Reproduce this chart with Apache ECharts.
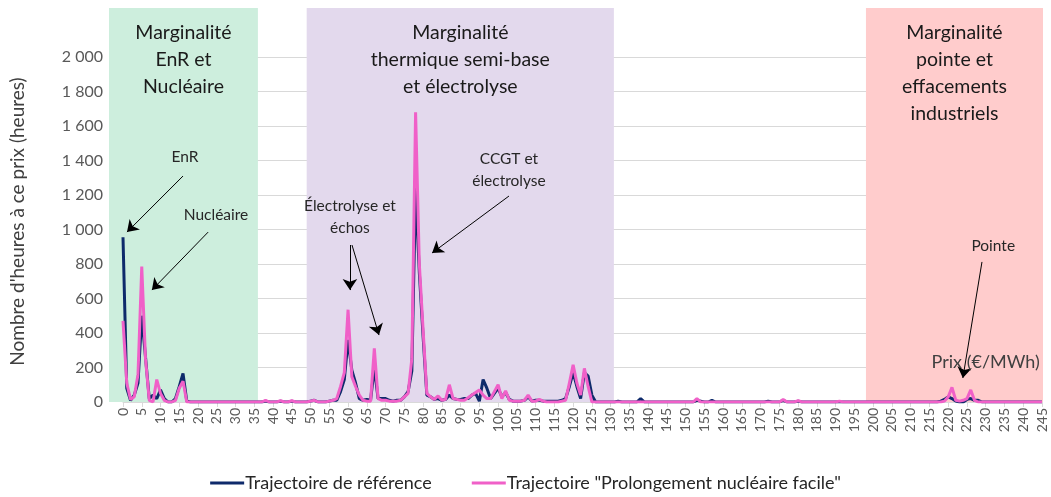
<!DOCTYPE html>
<html>
<head>
<meta charset="utf-8">
<script src="https://cdn.jsdelivr.net/npm/echarts@6/dist/echarts.min.js"></script>
<style>
  html, body { margin: 0; padding: 0; background: #fff; }
  #main { width: 1051px; height: 497px; }
</style>
</head>
<body>
<div id="main"></div>
<script>
// heures par niveau de prix (1 €/MWh par case, 0 -> 245)
const refHours = [
  955, 80, 10, 40, 110, 500, 260, 20, 40, 20,
  70, 20, 0, 0, 20, 90, 165, 5, 0, 0,
  0, 0, 0, 0, 0, 0, 0, 0, 0, 0,
  0, 0, 0, 0, 0, 0, 0, 0, 5, 0,
  0, 0, 5, 0, 0, 5, 0, 0, 0, 0,
  5, 10, 0, 0, 0, 5, 10, 10, 60, 130,
  360, 185, 110, 20, 10, 15, 10, 200, 20, 20,
  20, 10, 5, 10, 10, 30, 60, 180, 1240, 750,
  380, 40, 30, 15, 20, 10, 15, 40, 20, 15,
  15, 20, 20, 40, 50, 5, 130, 80, 20, 50,
  80, 30, 55, 15, 5, 5, 5, 10, 30, 5,
  10, 10, 5, 5, 5, 5, 5, 10, 20, 90,
  170, 90, 20, 170, 150, 40, 0, 0, 0, 0,
  0, 0, 5, 0, 0, 0, 0, 0, 20, 0,
  0, 0, 0, 0, 0, 0, 0, 0, 0, 0,
  0, 0, 0, 10, 5, 0, 0, 10, 0, 0,
  0, 0, 0, 0, 0, 0, 0, 0, 0, 0,
  0, 0, 5, 0, 0, 0, 10, 0, 0, 0,
  5, 0, 0, 0, 0, 0, 0, 0, 0, 0,
  0, 0, 0, 0, 0, 0, 0, 0, 0, 0,
  0, 0, 0, 0, 0, 0, 0, 0, 0, 0,
  0, 0, 0, 0, 0, 0, 0, 0, 5, 15,
  30, 20, 5, 0, 0, 15, 20, 10, 10, 0,
  0, 0, 0, 0, 0, 0, 0, 0, 0, 0,
  0, 0, 0, 0, 0, 0
];
const nucHours = [
  470, 110, 15, 30, 160, 785, 250, 10, 0, 130,
  50, 10, 0, 0, 10, 80, 120, 0, 0, 0,
  0, 0, 0, 0, 0, 0, 0, 0, 0, 0,
  0, 0, 0, 0, 0, 0, 0, 0, 10, 0,
  0, 0, 8, 0, 0, 8, 0, 0, 0, 0,
  5, 10, 0, 0, 0, 5, 10, 20, 90, 170,
  535, 147, 90, 40, 10, 5, 5, 311, 20, 10,
  10, 5, 5, 5, 10, 30, 50, 250, 1680, 800,
  420, 50, 30, 15, 35, 10, 15, 100, 20, 15,
  10, 10, 25, 40, 55, 70, 40, 20, 20, 60,
  100, 20, 65, 10, 5, 5, 5, 10, 40, 5,
  5, 15, 5, 0, 0, 0, 0, 5, 10, 110,
  215, 110, 40, 195, 90, 0, 0, 0, 0, 0,
  0, 0, 0, 0, 0, 0, 0, 0, 0, 0,
  0, 0, 0, 0, 0, 0, 0, 0, 0, 0,
  0, 0, 0, 20, 0, 0, 0, 0, 0, 0,
  0, 0, 0, 0, 0, 0, 0, 0, 0, 0,
  0, 0, 0, 0, 0, 0, 15, 0, 0, 0,
  8, 0, 0, 0, 0, 0, 0, 0, 0, 0,
  0, 5, 0, 0, 0, 0, 0, 0, 0, 0,
  0, 0, 0, 0, 0, 0, 0, 0, 0, 0,
  0, 0, 0, 0, 0, 0, 0, 0, 0, 5,
  30, 85, 10, 5, 10, 20, 70, 10, 0, 0,
  0, 0, 0, 0, 0, 0, 0, 0, 0, 0,
  0, 0, 0, 0, 0, 0
];
const seriesNames = ['Trajectoire de référence', 'Trajectoire "Prolongement nucléaire facile"'];

// zones de marginalité (bornes en €/MWh)
const zoneNames = ['Marginalité\nEnR et\nNucléaire', 'Marginalité\nthermique semi-base\net électrolyse', 'Marginalité\npointe et\neffacements\nindustriels'];
const zoneFrom = [-3.7, 49, 198.1];
const zoneTo = [36, 130.9, 245.3];
const zoneColors = ['#cdeedd', '#e3d9ed', '#ffcccc'];

// annotations : texte et fleches (coordonnees prix / heures)
const notes = [
  { text: 'EnR', at: [16.5, 1420] },
  { text: 'Nucléaire', at: [24.8, 1084] },
  { text: 'Électrolyse et\néchos', at: [60.5, 1075] },
  { text: 'CCGT et\nélectrolyse', at: [102.9, 1345] },
  { text: 'Pointe', at: [232, 904] }
];
const xAxisTitle = { text: 'Prix (€/MWh)', at: [230, 232] };
const arrows = [
  [[16.0, 1310], [1.07, 985]],
  [[22.7, 985], [7.7, 649]],
  [[60.5, 910], [60.5, 649]],
  [[61.05, 910], [68.25, 388]],
  [[102.9, 1194], [82.4, 864]],
  [[229, 812], [223.9, 139]]
];

const font = 'Lato, "Liberation Sans", sans-serif';
const fmt = v => v >= 1000 ? Math.floor(v / 1000) + ' ' + String(v % 1000).padStart(3, '0') : String(v);

var chart = echarts.init(document.getElementById('main'));
var option = {
  backgroundColor: '#fff',
  animation: false,
  textStyle: { fontFamily: font },
  grid: [
    { left: 123, right: 9, top: 57, bottom: 95 },
    { left: 109, right: 8, top: 8, bottom: 95 }
  ],
  legend: {
    bottom: 0,
    left: 'center',
    icon: 'rect',
    itemWidth: 34,
    itemHeight: 3,
    itemGap: 40,
    data: seriesNames,
    textStyle: { fontSize: 18, color: '#262626', fontFamily: font, padding: [0, 0, 0, -4] }
  },
  xAxis: [
    {
      type: 'value', gridIndex: 0, min: 0, max: 245, interval: 5,
      axisLine: { show: true, lineStyle: { color: '#d9d9d9' } },
      axisTick: { show: true, length: 5, lineStyle: { color: '#d9d9d9' } },
      splitLine: { show: false },
      axisLabel: { rotate: 90, fontSize: 14, color: '#595959', margin: 6, fontFamily: font }
    },
    { type: 'value', gridIndex: 1, min: -3.7, max: 245.3, show: false }
  ],
  yAxis: [
    {
      type: 'value', gridIndex: 0, min: 0, max: 2000, interval: 200,
      axisLine: { show: false }, axisTick: { show: false },
      splitLine: { lineStyle: { color: '#d9d9d9' } },
      axisLabel: { fontSize: 16, color: '#595959', margin: 20, formatter: fmt, fontFamily: font },
      name: "Nombre d'heures à ce prix (heures)",
      nameLocation: 'middle', nameRotate: 90, nameGap: 96,
      nameTextStyle: { fontSize: 19, color: '#404040', fontFamily: font, padding: [0, 0, 0, 16] }
    },
    { type: 'value', gridIndex: 1, min: 0, max: 1, show: false }
  ],
  series: [
    {
      type: 'line', xAxisIndex: 1, yAxisIndex: 1, data: [], z: -1, silent: true,
      markArea: {
        silent: true,
        data: zoneNames.map((n, i) => [
          { name: n, xAxis: zoneFrom[i], yAxis: 0, itemStyle: { color: zoneColors[i] } },
          { xAxis: zoneTo[i], yAxis: 1 }
        ]),
        label: {
          position: 'insideTop', distance: 11, color: '#1a1a1a',
          fontSize: 19.5, lineHeight: 27, align: 'center', fontFamily: font
        }
      }
    },
    {
      name: seriesNames[0], type: 'line', xAxisIndex: 0, yAxisIndex: 0,
      data: refHours.map((v, i) => [i, v]),
      showSymbol: false, color: '#0e2a6b', lineStyle: { width: 3, color: '#0e2a6b' }, z: 3
    },
    {
      name: seriesNames[1], type: 'line', xAxisIndex: 0, yAxisIndex: 0,
      data: nucHours.map((v, i) => [i, v]),
      showSymbol: false, color: '#f060c8', lineStyle: { width: 3, color: '#f060c8' }, z: 4
    },
    {
      type: 'line', xAxisIndex: 0, yAxisIndex: 0, data: [], z: 5, silent: true,
      markLine: {
        silent: true,
        symbol: ['none', 'arrow'],
        symbolSize: 11,
        lineStyle: { color: '#000', width: 1, type: 'solid' },
        label: { show: false },
        data: arrows.map(a => [{ coord: a[0] }, { coord: a[1] }])
      },
      markPoint: {
        silent: true,
        symbol: 'rect', symbolSize: 1,
        itemStyle: { color: 'rgba(0,0,0,0)' },
        label: {
          show: true, position: 'inside', color: '#262626', fontSize: 15.5, lineHeight: 22,
          align: 'center', fontFamily: font, formatter: p => p.name
        },
        data: notes.map(n => ({ name: n.text, coord: n.at })).concat([{
          name: xAxisTitle.text, coord: xAxisTitle.at,
          label: { fontSize: 18, color: '#404040' }
        }])
      }
    }
  ]
};
chart.setOption(option);
</script>
</body>
</html>
